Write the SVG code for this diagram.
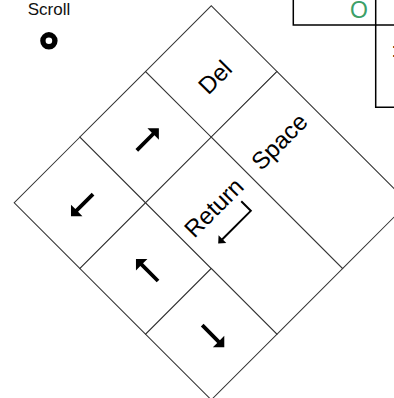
<svg xmlns="http://www.w3.org/2000/svg" xmlns:xlink="http://www.w3.org/1999/xlink" width="394" height="398" viewBox="0 0 394 398">
<style>
  .key { fill: #ffffff; stroke: #333333; stroke-width: 1; }
  .lbl { font-family: "Liberation Sans", Arial, sans-serif; font-size: 24px; fill: #000000; text-anchor: middle; }
  .small { font-family: "Liberation Sans", Arial, sans-serif; font-size: 17px; fill: #111111; text-anchor: middle; }
  .tbl { fill: none; stroke: #000000; stroke-width: 1.5; }
  .arr { fill: #000000; }
  .hook { fill: none; stroke: #000000; stroke-width: 2; }
</style>
<defs>
  <path id="arrow" class="arr" d="M-15.5,-1.9 H7.6 V-8.1 L15.7,0 L7.6,8.1 V1.9 H-15.5 Z"/>
</defs>
<rect x="0" y="0" width="394" height="398" fill="#ffffff"/>

<g id="scroll-legend">
  <text class="small" x="49" y="15">Scroll</text>
  <circle cx="48.9" cy="40.8" r="6" fill="none" stroke="#000000" stroke-width="5.4"/>
</g>

<g id="table-fragment">
  <path class="tbl" d="M293.3,-1 V25 H395"/>
  <path class="tbl" d="M375.7,-1 V107.3 H395"/>
  <text x="359" y="18" font-family="Liberation Sans, Arial, sans-serif" font-size="23" fill="#3c9f68" text-anchor="middle">O</text>
  <text x="391.5" y="57" font-family="Liberation Sans, Arial, sans-serif" font-size="20" fill="#000000">:</text>
</g>

<g id="cluster" transform="translate(14.2,202.8) rotate(-45)">
  <g id="key-left">
    <rect class="key" x="0" y="0" width="92.9" height="92.9"/>
    <use xlink:href="#arrow" href="#arrow" transform="translate(46.4,49.6) rotate(180)"/>
  </g>
  <g id="key-right">
    <rect class="key" x="92.9" y="0" width="92.9" height="92.9"/>
    <use xlink:href="#arrow" href="#arrow" transform="translate(139.3,49.6)"/>
  </g>
  <g id="key-del">
    <rect class="key" x="185.8" y="0" width="92.9" height="92.9"/>
    <text class="lbl" x="230.8" y="61.5">Del</text>
  </g>
  <g id="key-up">
    <rect class="key" x="0" y="92.9" width="92.9" height="92.9"/>
    <use xlink:href="#arrow" href="#arrow" transform="translate(46.4,141.5) rotate(-90)"/>
  </g>
  <g id="key-return">
    <rect class="key" x="92.9" y="92.9" width="92.9" height="185.8"/>
    <text class="lbl" x="137.8" y="153">Return</text>
    <path class="hook" d="M161.6,159.5 V173 H121"/>
    <path class="arr" d="M115.5,173 L121.5,167.5 L121.5,178.5 Z"/>
  </g>
  <g id="key-space">
    <rect class="key" x="185.8" y="92.9" width="92.9" height="185.8"/>
    <text class="lbl" x="230.8" y="152.5">Space</text>
  </g>
  <g id="key-down">
    <rect class="key" x="0" y="185.8" width="92.9" height="92.9"/>
    <use xlink:href="#arrow" href="#arrow" transform="translate(46.4,235) rotate(90)"/>
  </g>
</g>
<g id="connectors"/>
</svg>
